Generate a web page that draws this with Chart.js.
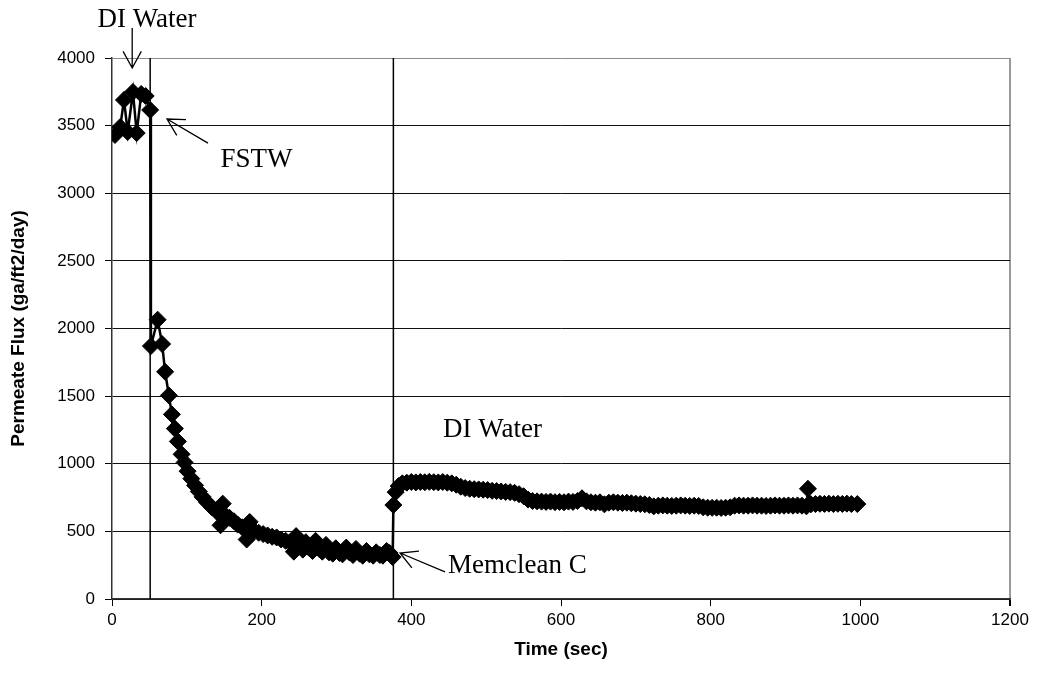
<!DOCTYPE html>
<html><head><meta charset="utf-8">
<script src="https://cdn.jsdelivr.net/npm/chart.js@4.4.1/dist/chart.umd.min.js"></script>
<style>html,body{margin:0;padding:0;background:#fff}#wrap{width:1041px;height:691px;position:relative}</style>
</head><body><div id="wrap"><canvas id="c" width="1041" height="691"></canvas></div>
<script>
// ---- data ----
const fluxTimes = [
  4, 11, 16, 21, 28, 33, 39, 45, 51,
  52, 61, 67, 71, 76, 80, 84, 88, 93, 97,
  101, 106, 111, 116, 121, 127, 133, 140, 145, 148,
  152, 157, 163, 168, 174, 180, 184, 190, 196, 202,
  208, 214, 220, 226, 232, 238, 243, 246, 250, 255,
  259, 263, 268, 272, 277, 281, 286, 290, 295, 299,
  304, 308, 313, 317, 322, 326, 331, 335, 340, 344,
  349, 353, 358, 362, 367, 371, 375,
  376, 379, 383, 388, 394, 400, 406, 412, 418, 424,
  430, 436, 442, 448, 454, 460, 466, 472, 478, 484,
  490, 496, 502, 508, 514, 520, 526, 532, 538, 544,
  550, 556, 562, 568, 574, 580, 586, 592, 598, 604,
  610, 616, 622, 628, 634, 640, 646, 652, 658, 664,
  670, 676, 682, 688, 694, 700, 706, 712, 718, 724,
  730, 736, 742, 748, 754, 760, 766, 772, 778, 784,
  790, 796, 802, 808, 814, 820, 826, 832, 838, 844,
  850, 856, 862, 868, 874, 880, 886, 892, 898, 904,
  910, 916, 922, 928, 930, 934, 940, 946, 952, 958,
  964, 970, 976, 982, 988, 996
];
const fluxValues = [
  3431, 3490, 3690, 3453, 3749, 3445, 3734, 3719, 3616,
  1870, 2065, 1885, 1680, 1505, 1365, 1260, 1165, 1070, 1010,
  945, 890, 840, 795, 755, 715, 680, 645, 545, 705,
  615, 600, 575, 550, 530, 440, 570, 505, 490, 480,
  470, 460, 455, 440, 430, 420, 350, 465, 400, 365,
  420, 380, 355, 430, 370, 350, 400, 345, 335, 375,
  340, 330, 380, 345, 325, 370, 335, 320, 355, 330,
  320, 345, 325, 320, 355, 340, 310,
  695, 790, 835, 855, 860, 865, 862, 865, 863, 866,
  864, 862, 865, 860, 855, 845, 830, 820, 815, 812,
  810, 808, 805, 800, 798, 795, 792, 790, 785, 775,
  760, 735, 725, 722, 720, 718, 720, 716, 718, 715,
  720, 718, 725, 745, 722, 715, 712, 715, 700, 712,
  715, 712, 710, 712, 708, 705, 702, 700, 695, 685,
  690, 692, 690, 688, 690, 692, 690, 688, 690, 688,
  678, 675, 674, 675, 673, 675, 678, 690, 692, 690,
  690, 692, 690, 690, 688, 690, 692, 690, 690, 692,
  690, 692, 690, 685, 815, 700, 702, 704, 703, 705,
  702, 704, 703, 705, 702, 702
];
const transitionTimes = [51, 376];
const xTickValues = [0, 200, 400, 600, 800, 1000, 1200];
const yTickValues = [0, 500, 1000, 1500, 2000, 2500, 3000, 3500, 4000];
const xTitle = 'Time (sec)';
const yTitle = 'Permeate Flux (ga/ft2/day)';
const noteLabels = ['DI Water', 'FSTW', 'DI Water', 'Memclean C'];

// ---- annotation placement (data coordinates) ----
const noteAnchors = [
  {t: 46.8, v: 4229}, {t: 193, v: 3194}, {t: 508.5, v: 1198}, {t: 541.7, v: 192}
];
const arrowAnchors = [
  {from: {t: 27, v: 4222}, to: {t: 27, v: 3926}},
  {from: {t: 128.3, v: 3371}, to: {t: 73.5, v: 3549}},
  {from: {t: 445, v: 200}, to: {t: 384.9, v: 340}}
];

const seriesPoints = fluxTimes.map((t, i) => ({x: t, y: fluxValues[i]}));
const yMin = yTickValues[0], yMax = yTickValues[yTickValues.length - 1];
const xMin = xTickValues[0], xMax = xTickValues[xTickValues.length - 1];

const transitionSets = transitionTimes.map(t => ({
  data: [{x: t, y: yMin}, {x: t, y: yMax}],
  showLine: true, borderColor: '#000', borderWidth: 1.5,
  pointRadius: 0, order: 2
}));

const annotationPlugin = {
  id: 'notes',
  afterDatasetsDraw(chart) {
    const {ctx, scales: {x, y}} = chart;
    ctx.save();
    ctx.fillStyle = '#000';
    ctx.font = '27px "Liberation Serif", "Times New Roman", serif';
    ctx.textAlign = 'center';
    ctx.textBaseline = 'alphabetic';
    noteLabels.forEach((txt, i) => {
      const a = noteAnchors[i];
      ctx.fillText(txt, x.getPixelForValue(a.t), y.getPixelForValue(a.v));
    });
    ctx.strokeStyle = '#000';
    ctx.lineWidth = 1.3;
    arrowAnchors.forEach(a => {
      const x1 = x.getPixelForValue(a.from.t), y1 = y.getPixelForValue(a.from.v);
      const x2 = x.getPixelForValue(a.to.t), y2 = y.getPixelForValue(a.to.v);
      const ang = Math.atan2(y2 - y1, x2 - x1);
      const L = 19, w = 0.5;
      ctx.beginPath();
      ctx.moveTo(x1, y1); ctx.lineTo(x2, y2);
      ctx.moveTo(x2 - L * Math.cos(ang - w), y2 - L * Math.sin(ang - w));
      ctx.lineTo(x2, y2);
      ctx.lineTo(x2 - L * Math.cos(ang + w), y2 - L * Math.sin(ang + w));
      ctx.stroke();
    });
    ctx.restore();
  }
};

Chart.defaults.font.family = '"Liberation Sans", Arial, sans-serif';
Chart.defaults.color = '#000';

new Chart(document.getElementById('c'), {
  type: 'scatter',
  data: {
    datasets: [
      {
        data: seriesPoints, showLine: true, tension: 0,
        borderColor: '#000', borderWidth: 2.5,
        pointStyle: 'rectRot', pointRadius: 8.5, pointBorderWidth: 1,
        pointBackgroundColor: '#000', pointBorderColor: '#000', order: 1
      },
      ...transitionSets
    ]
  },
  options: {
    responsive: false, animation: false, devicePixelRatio: 1,
    layout: {padding: {top: 58, right: 31, bottom: 0, left: 0}},
    plugins: {legend: {display: false}, tooltip: {enabled: false}},
    scales: {
      x: {
        type: 'linear', min: xMin, max: xMax,
        afterBuildTicks: s => { s.ticks = xTickValues.map(v => ({value: v})); },
        afterFit: s => { s.height = 92; },
        ticks: {font: {size: 17}, color: '#000', padding: 4, maxRotation: 0, callback: v => String(v)},
        grid: {
          color: c => (c.tick && c.tick.value === xMax) ? '#9a9a9a' : 'rgba(0,0,0,0)',
          lineWidth: c => (c.tick && c.tick.value === xMax) ? 2 : 1,
          tickColor: '#000', tickLength: 7, drawTicks: true
        },
        border: {display: true, color: '#333', width: 1.5},
        title: {display: true, text: xTitle, font: {size: 19, weight: 'bold'}, color: '#000', padding: {top: 0, bottom: 30}}
      },
      y: {
        type: 'linear', min: yMin, max: yMax,
        afterBuildTicks: s => { s.ticks = yTickValues.map(v => ({value: v})); },
        afterFit: s => { s.width = 112; },
        ticks: {font: {size: 17}, color: '#000', padding: 10, callback: v => String(v)},
        grid: {
          color: c => (c.tick && c.tick.value === yMax) ? '#8a8a8a' : '#111',
          lineWidth: 1, tickColor: '#000', tickLength: 7
        },
        border: {display: true, color: '#333', width: 1.5},
        title: {display: true, text: yTitle, font: {size: 19, weight: 'bold'}, color: '#000', padding: {top: 7, bottom: 0}}
      }
    }
  },
  plugins: [annotationPlugin]
});
</script>
</body></html>
